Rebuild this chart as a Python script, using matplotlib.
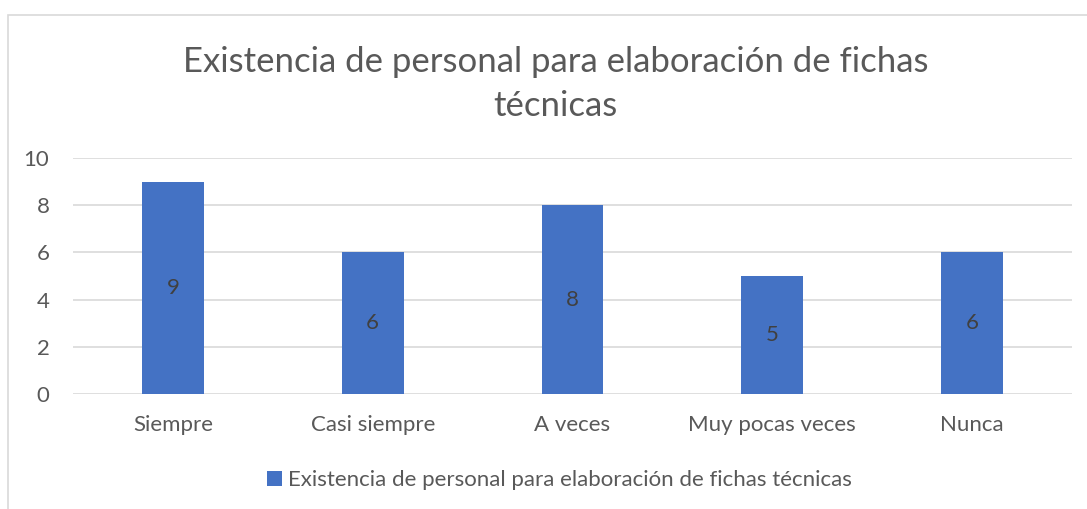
import matplotlib.pyplot as plt
from matplotlib.patches import Rectangle

# data
categorias = ['Siempre', 'Casi siempre', 'A veces', 'Muy pocas veces', 'Nunca']
valores = [9, 6, 8, 5, 6]
serie = 'Existencia de personal para elaboración de fichas técnicas'
titulo = 'Existencia de personal para elaboración de fichas\ntécnicas'

plt.rcParams['font.family'] = ['Lato', 'DejaVu Sans']
gris = '#595959'

fig = plt.figure(figsize=(10.87, 5.09), dpi=100)
# chart border (only left and top edges are visible in the picture)
fig.patches.append(Rectangle((8/1087, -0.1), 1.2, 1 - 15/509 + 0.1, transform=fig.transFigure,
                             fill=False, edgecolor='#d9d9d9', linewidth=1.2))

ax = fig.add_axes([73/1087, 1 - 394/509, 999/1087, 236/509])
x = range(len(categorias))
barras = ax.bar(x, valores, width=0.31, color='#4472c4', label=serie, zorder=3)
for b, v in zip(barras, valores):
    ax.text(b.get_x() + b.get_width()/2, v/2, str(v), ha='center', va='center',
            fontsize=16, color='#404040', zorder=4)

ax.set_xlim(-0.5, len(categorias) - 0.5)
ax.set_ylim(0, 10)
ax.set_yticks(range(0, 11, 2))
ax.set_xticks(list(x))
ax.set_xticklabels(categorias)
ax.grid(axis='y', color='#d9d9d9', linewidth=1.2, zorder=0)
for s in ax.spines.values():
    s.set_visible(False)
ax.tick_params(length=0, labelsize=16, colors=gris)
ax.tick_params(axis='x', pad=15)
ax.tick_params(axis='y', pad=17)

fig.text(0.511, 1 - 84/509, titulo, ha='center', va='center', fontsize=25,
         color=gris, linespacing=1.45)

leg = fig.legend(handles=[barras], labels=[serie], loc='center', bbox_to_anchor=(0.515, 1 - 480/509),
                 frameon=False, fontsize=16, handlelength=0.65, handleheight=0.65,
                 handletextpad=0.3)
for t in leg.get_texts():
    t.set_color(gris)

plt.savefig('out.png', dpi=100)
